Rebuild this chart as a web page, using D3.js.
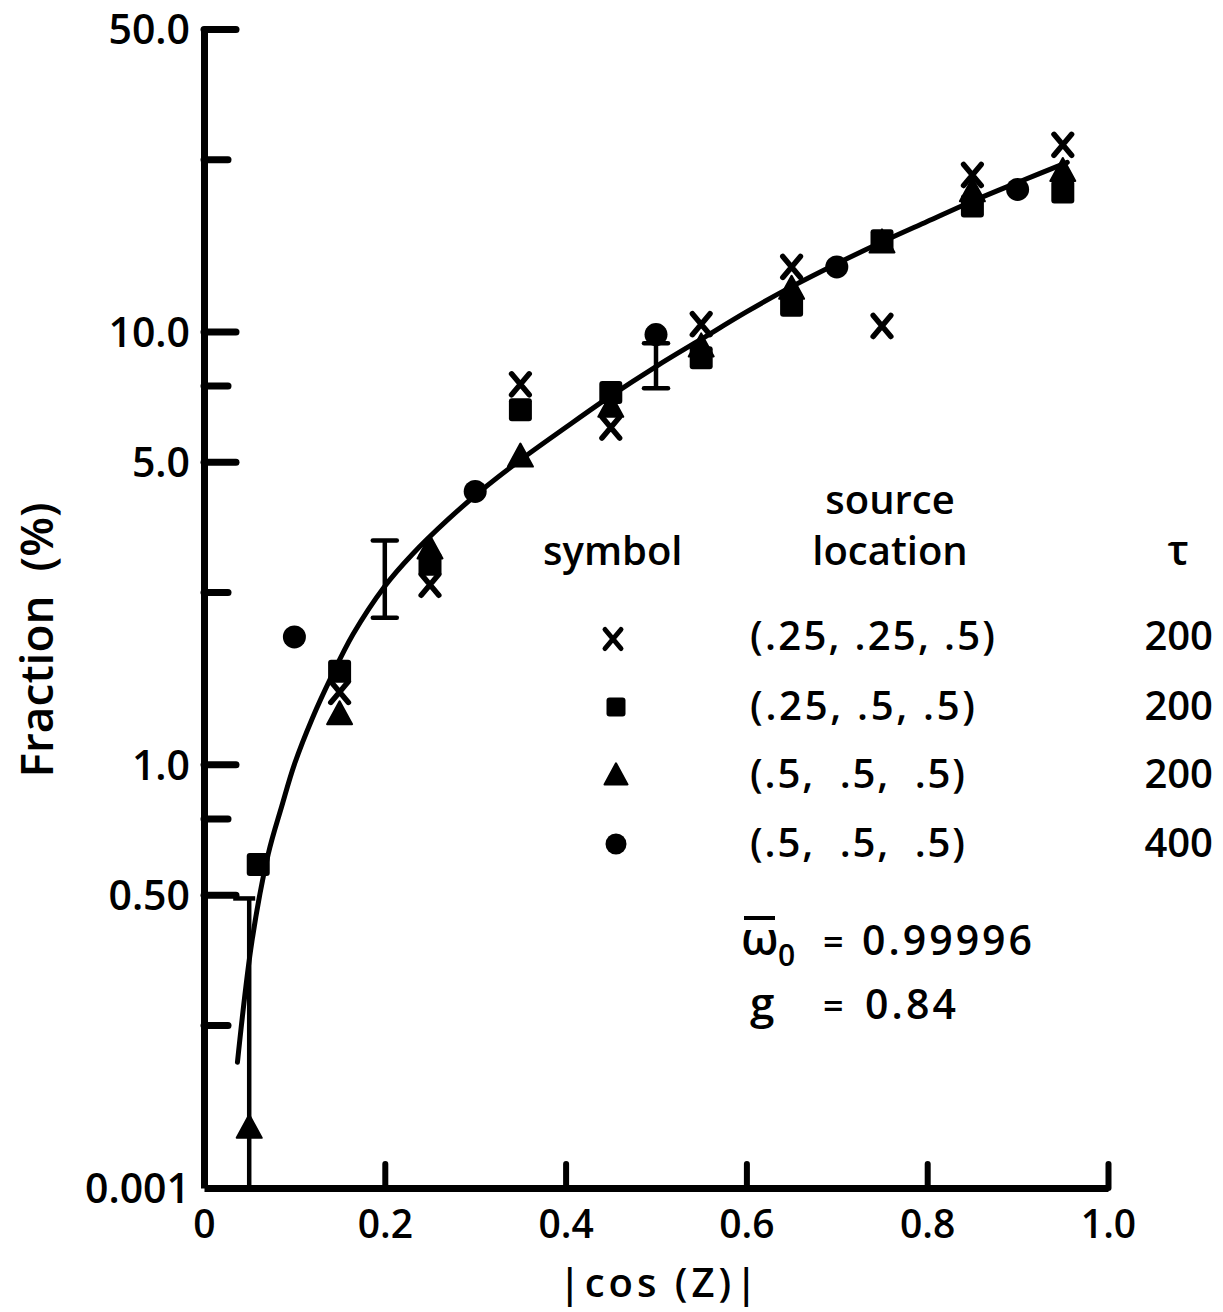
<!DOCTYPE html>
<html>
<head>
<meta charset="utf-8">
<script src="https://cdn.jsdelivr.net/npm/d3@7"></script>
<style>
  html, body { margin: 0; padding: 0; background: #fff; }
  svg { display: block; }
  text { font-family: "Open Sans", "DejaVu Sans", sans-serif; font-weight: 600; fill: #000; }
</style>
</head>
<body>
<div id="chart"></div>
<script>
// ---------------- data ----------------
const xTickValues = [0.2, 0.4, 0.6, 0.8, 1.0];
const xLabelValues = [0, 0.2, 0.4, 0.6, 0.8, 1.0];
const xLabelTexts = ["0", "0.2", "0.4", "0.6", "0.8", "1.0"];
const yTickValues = [0.105, 0.5, 1, 5, 10, 50];
const yTickTexts = ["0.001", "0.50", "1.0", "5.0", "10.0", "50.0"];
const yMinorTicks = [0.25, 0.75, 2.5, 7.5, 25];

// series: source (.25,.25,.5) tau 200  -> x marks
const crossX = [0.15, 0.25, 0.35, 0.45, 0.55, 0.65, 0.75, 0.85, 0.95];
const crossY = [1.47, 2.6, 7.55, 6.0, 10.4, 14.1, 10.3, 23.0, 27.0];
// series: source (.25,.5,.5) tau 200 -> squares
const squareX = [0.06, 0.15, 0.25, 0.35, 0.45, 0.55, 0.65, 0.75, 0.85, 0.95];
const squareY = [0.587, 1.64, 2.9, 6.6, 7.23, 8.7, 11.5, 16.2, 19.5, 21.0];
// series: source (.5,.5,.5) tau 200 -> triangles
const triangleX = [0.05, 0.15, 0.25, 0.35, 0.45, 0.55, 0.65, 0.75, 0.85, 0.95];
const triangleY = [0.144, 1.3, 3.14, 5.12, 6.67, 9.2, 12.5, 16.0, 21.0, 23.4];
// series: source (.5,.5,.5) tau 400 -> circles
const circleX = [0.1, 0.3, 0.5, 0.7, 0.9];
const circleY = [1.97, 4.27, 9.84, 14.1, 21.3];

// error bars
const errX = [0.05, 0.2, 0.5];
const errLow = [0.105, 2.18, 7.4];
const errHigh = [0.49, 3.29, 9.4];

// fitted curve
const curveX = [0.037, 0.053, 0.071, 0.086, 0.10, 0.12, 0.14, 0.165, 0.20, 0.23, 0.27, 0.31, 0.35, 0.40, 0.45, 0.50, 0.55, 0.60, 0.65, 0.70, 0.75, 0.80, 0.85, 0.90, 0.955];
const curveY = [0.205, 0.39, 0.62, 0.80, 1.0, 1.28, 1.58, 2.0, 2.58, 3.05, 3.68, 4.35, 5.05, 6.0, 7.1, 8.3, 9.6, 11.1, 12.7, 14.35, 16.1, 17.95, 20.0, 22.1, 24.6];

// legend
const legendSymbols = ["cross", "square", "triangle", "circle"];
const legendLocations = ["(.25, .25, .5)", "(.25, .5, .5)", "(.5,  .5,  .5)", "(.5,  .5,  .5)"];
const legendTau = ["200", "200", "200", "400"];

// ---------------- drawing ----------------
const W = 1223, H = 1312;
const svg = d3.select("#chart").append("svg").attr("width", W).attr("height", H);

const x = d3.scaleLinear().domain([0, 1]).range([204, 1108]);
const y = d3.scaleLog().domain([0.105, 50]).range([1188, 29]);

// y axis (ticks point right, labels on the left)
const yAxisG = svg.append("g").attr("transform", `translate(${x(0)},0)`)
  .call(d3.axisRight(y).tickValues(yTickValues).tickSize(32).tickSizeOuter(0)
        .tickFormat((d, i) => yTickTexts[i]));
yAxisG.select(".domain").attr("stroke", "#000").attr("stroke-width", 7);
yAxisG.selectAll(".tick line").attr("stroke", "#000").attr("stroke-width", 7).attr("stroke-linecap", "round");
yAxisG.selectAll(".tick text").attr("x", -14).attr("dy", "0.36em").attr("text-anchor", "end")
  .style("font-size", "41px").style("font-family", "'Open Sans', sans-serif").style("font-weight", 600);
yAxisG.selectAll(".tick").filter(d => d === yTickValues[0]).select("line").remove();

const yMinorG = svg.append("g").attr("transform", `translate(${x(0)},0)`)
  .call(d3.axisRight(y).tickValues(yMinorTicks).tickSize(24).tickFormat(""));
yMinorG.select(".domain").remove();
yMinorG.selectAll(".tick line").attr("stroke", "#000").attr("stroke-width", 7).attr("stroke-linecap", "round");

// x axis: ticks upward, labels below
const xTickG = svg.append("g").attr("transform", `translate(0,${y(0.105)})`)
  .call(d3.axisTop(x).tickValues(xTickValues).tickSize(24).tickSizeOuter(0).tickFormat(""));
xTickG.select(".domain").attr("stroke", "#000").attr("stroke-width", 7);
xTickG.selectAll(".tick line").attr("stroke", "#000").attr("stroke-width", 6).attr("stroke-linecap", "round");

const xLabG = svg.append("g").attr("transform", `translate(0,${y(0.105)})`)
  .call(d3.axisBottom(x).tickValues(xLabelValues).tickSize(0).tickPadding(22)
        .tickFormat((d, i) => xLabelTexts[i]));
xLabG.select(".domain").remove();
xLabG.selectAll(".tick text").attr("dy", "0.71em")
  .style("font-size", "39px").style("font-family", "'Open Sans', sans-serif").style("font-weight", 600);

// axis titles
svg.append("text").attr("x", 660).attr("y", 1297).attr("text-anchor", "middle")
  .style("font-size", "40px").style("letter-spacing", "4px").text("|cos (Z)|");
svg.append("text").attr("transform", "translate(53,640) rotate(-90)").attr("text-anchor", "middle")
  .style("font-size", "46px").attr("xml:space", "preserve").text("Fraction  (%)");

// curve
const line = d3.line().x(d => x(d[0])).y(d => y(d[1])).curve(d3.curveCatmullRom.alpha(0.5));
svg.append("path").datum(curveX.map((v, i) => [v, curveY[i]]))
  .attr("d", line).attr("fill", "none").attr("stroke", "#000").attr("stroke-width", 5)
  .attr("stroke-linecap", "round");

// error bars
errX.forEach((ex, i) => {
  const g = svg.append("g").attr("stroke", "#000").attr("stroke-width", 4.5);
  g.append("line").attr("x1", x(ex)).attr("x2", x(ex)).attr("y1", y(errLow[i])).attr("y2", y(errHigh[i]));
  if (i === 0) {
    g.append("line").attr("x1", x(ex) - 16).attr("x2", x(ex) + 6).attr("y1", y(errHigh[i])).attr("y2", y(errHigh[i]));
  } else {
    g.append("line").attr("x1", x(ex) - 12).attr("x2", x(ex) + 12).attr("y1", y(errHigh[i])).attr("y2", y(errHigh[i])).attr("stroke-linecap", "round");
    g.append("line").attr("x1", x(ex) - 12).attr("x2", x(ex) + 12).attr("y1", y(errLow[i])).attr("y2", y(errLow[i])).attr("stroke-linecap", "round");
  }
});

// marker drawers
function drawSquare(g, cx, cy, s) {
  g.append("rect").attr("x", cx - s / 2).attr("y", cy - s / 2).attr("width", s).attr("height", s)
    .attr("rx", 3).attr("fill", "#000");
}
function drawTriangle(g, cx, cy, s) {
  const h = s * 0.92;
  g.append("path").attr("d", `M${cx},${cy - h * 0.6}L${cx + s / 2},${cy + h * 0.4}L${cx - s / 2},${cy + h * 0.4}Z`)
    .attr("fill", "#000").attr("stroke", "#000").attr("stroke-width", 2).attr("stroke-linejoin", "round");
}
function drawCircle(g, cx, cy, r) {
  g.append("circle").attr("cx", cx).attr("cy", cy).attr("r", r).attr("fill", "#000");
}
function drawCross(g, cx, cy, s, sw) {
  const w = s * 0.42, h = s * 0.5;
  g.append("path").attr("d", `M${cx - w},${cy - h}Q${cx},${cy} ${cx + w},${cy + h}M${cx + w},${cy - h}Q${cx},${cy} ${cx - w},${cy + h}`)
    .attr("fill", "none").attr("stroke", "#000").attr("stroke-width", sw || 5.5).attr("stroke-linecap", "round");
}

const marks = svg.append("g");
squareX.forEach((v, i) => drawSquare(marks, x(v), y(squareY[i]), 23));
triangleX.forEach((v, i) => drawTriangle(marks, x(v), y(triangleY[i]), 25));
circleX.forEach((v, i) => drawCircle(marks, x(v), y(circleY[i]), 11.5));
crossX.forEach((v, i) => drawCross(marks, x(v), y(crossY[i]), 21));

// legend
const lg = svg.append("g");
const rowY = [650, 720, 788, 857];
const rowW = [245, 225, 215, 215];
lg.append("text").attr("x", 543).attr("y", 565).style("font-size", "40px").text("symbol");
lg.append("text").attr("x", 890).attr("y", 514).attr("text-anchor", "middle").style("font-size", "40px").text("source");
lg.append("text").attr("x", 890).attr("y", 565).attr("text-anchor", "middle").style("font-size", "40px").text("location");
lg.append("text").attr("x", 1178).attr("y", 565).attr("text-anchor", "middle").style("font-size", "42px").text("τ");
legendSymbols.forEach((s, i) => {
  const cy = rowY[i] - 13;
  if (s === "cross") drawCross(lg, 613, cy + 2, 19, 5);
  if (s === "square") drawSquare(lg, 616, cy, 19);
  if (s === "triangle") drawTriangle(lg, 616, cy + 1, 23);
  if (s === "circle") drawCircle(lg, 616, cy, 10.5);
  lg.append("text").attr("x", 750).attr("y", rowY[i]).attr("xml:space", "preserve")
    .attr("textLength", rowW[i]).attr("lengthAdjust", "spacing")
    .style("font-size", "40px").text(legendLocations[i]);
  lg.append("text").attr("x", 1213).attr("y", rowY[i]).attr("text-anchor", "end")
    .style("font-size", "40px").text(legendTau[i]);
});

// parameters
lg.append("text").attr("x", 741).attr("y", 955).style("font-size", "46px").text("ω");
lg.append("line").attr("x1", 744).attr("x2", 775).attr("y1", 918).attr("y2", 918).attr("stroke", "#000").attr("stroke-width", 4);
lg.append("text").attr("x", 778).attr("y", 966).style("font-size", "30px").text("0");
lg.append("text").attr("x", 823).attr("y", 955).style("font-size", "36px").text("=");
lg.append("text").attr("x", 862).attr("y", 955).attr("textLength", 170).attr("lengthAdjust", "spacing")
  .style("font-size", "41px").text("0.99996");
lg.append("text").attr("x", 750).attr("y", 1019).style("font-size", "44px").text("g");
lg.append("text").attr("x", 823).attr("y", 1019).style("font-size", "36px").text("=");
lg.append("text").attr("x", 865).attr("y", 1019).attr("textLength", 91).attr("lengthAdjust", "spacing")
  .style("font-size", "41px").text("0.84");
</script>
</body>
</html>
